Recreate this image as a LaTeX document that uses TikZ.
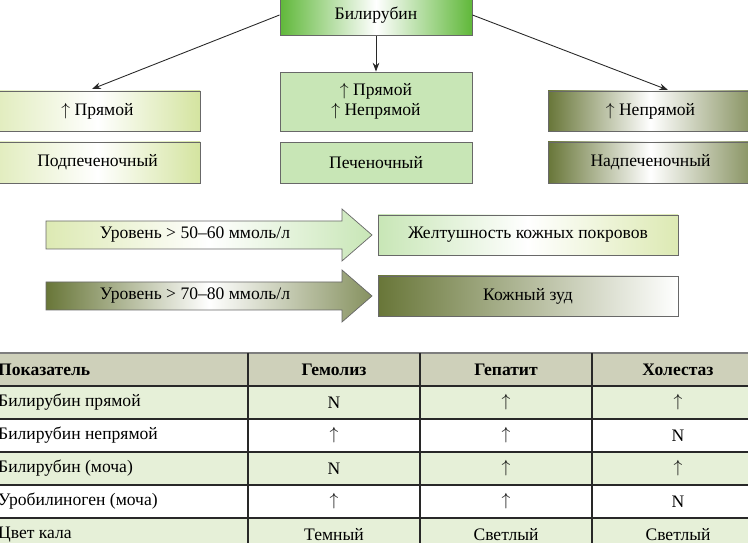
\documentclass[tikz,border=0pt]{standalone}
\usepackage{fontspec}
\setmainfont{Liberation Serif}
\usetikzlibrary{arrows.meta}
\definecolor{grass}{RGB}{96,184,58}
\definecolor{lime}{RGB}{212,228,160}
\definecolor{mint}{RGB}{200,230,182}
\definecolor{olive}{RGB}{104,118,56}
\definecolor{rowgreen}{RGB}{230,240,216}
\definecolor{headgray}{RGB}{206,208,186}
\definecolor{rule}{RGB}{40,40,40}
\tikzset{
  box/.style={draw=rule!70, line width=0.5pt, font=\fontsize{10}{11.5}\selectfont, align=center, inner sep=0pt},
  litebox/.style={box, left color=lime!70, right color=lime, middle color=white},
  flatbox/.style={box, fill=mint},
  darkbox/.style={box, left color=olive, right color=olive!80, middle color=white},
  link/.style={-{Stealth[length=5pt]}, draw=rule, line width=0.5pt},
  txt/.style={font=\fontsize{10}{11.5}\selectfont},
}
\begin{document}
\begin{tikzpicture}[x=0.02cm, y=-0.02cm]
	\useasboundingbox (0,0) rectangle (748,543);
	\clip (0,0) rectangle (748,543);

	% top of the scheme
	\node[box, left color=grass, right color=grass, middle color=white, minimum width=192*0.02cm, minimum height=41*0.02cm] (bili) at (376,15) {Билирубин};
	\node[litebox, minimum width=205*0.02cm, minimum height=40*0.02cm] (direct) at (97.5,111) {$\uparrow$ Прямой};
	\node[litebox, minimum width=205*0.02cm, minimum height=41*0.02cm] (sub) at (97.5,162.5) {Подпеченочный};
	\node[flatbox, minimum width=192*0.02cm, minimum height=59*0.02cm] (both) at (376,101.5) {$\uparrow$ Прямой\\$\uparrow$ Непрямой};
	\node[flatbox, minimum width=192*0.02cm, minimum height=41*0.02cm] (hep) at (376,162.5) {Печеночный};
	\node[darkbox, minimum width=205*0.02cm, minimum height=40*0.02cm] (indirect) at (650.5,111) {$\uparrow$ Непрямой};
	\node[darkbox, minimum width=205*0.02cm, minimum height=41*0.02cm] (supra) at (650.5,162.5) {Надпеченочный};

	\draw[link] (bili.west) -- (92,89);
	\draw[link] (bili.south) -- (both.north);
	\draw[link] (bili.east) -- (668,90);

	% levels
	\path[draw=rule!70, left color=lime!80, right color=mint, middle color=white] (46,221) -- (342,221) -- (342,209) -- (372,235) -- (342,261) -- (342,249) -- (46,249) -- cycle;
	\node[txt] (lvlA) at (195,235) {Уровень > 50–60 ммоль/л};
	\node[box, left color=mint, right color=lime!80, middle color=white, minimum width=300*0.02cm, minimum height=40*0.02cm] (jaund) at (528,235) {Желтушность кожных покровов};
	\path[draw=rule!70, left color=olive, right color=olive!80, middle color=white] (46,282) -- (342,282) -- (342,270) -- (372,296) -- (342,322) -- (342,310) -- (46,310) -- cycle;
	\node[txt] (lvlB) at (195,296) {Уровень > 70–80 ммоль/л};
	\node[box, left color=olive, right color=white, minimum width=300*0.02cm, minimum height=40*0.02cm] (itch) at (528,296) {Кожный зуд};

	% table
	\fill[headgray] (0,353) rectangle (748,386);
	\foreach \y in {386,452,518} \fill[rowgreen] (0,\y) rectangle (748,\y+33);
	\draw[rule!60, line width=1.5pt] (0,353) -- (748,353);
	\foreach \y in {386,419,452,485,518} \draw[rule, line width=0.6pt] (0,\y) -- (748,\y);
	\foreach \x in {248,420,592} \draw[rule, line width=0.8pt] (\x,353) -- (\x,543);
	\foreach \t [count=\i] in {{\bfseries Показатель}, Билирубин прямой, Билирубин непрямой, Билирубин (моча), Уробилиноген (моча), Цвет кала}
		\node[anchor=west, txt] (row\i) at (-8,336.5+\i*33) {\t};
	\foreach \a/\b/\c [count=\i] in {{\bfseries Гемолиз}/{\bfseries Гепатит}/{\bfseries Холестаз}, N/$\uparrow$/$\uparrow$, $\uparrow$/$\uparrow$/N, N/$\uparrow$/$\uparrow$, $\uparrow$/$\uparrow$/N, Темный/Светлый/Светлый} {
		\node[txt] (ca\i) at (334,336.5+\i*33) {\a};
		\node[txt] (cb\i) at (506,336.5+\i*33) {\b};
		\node[txt] (cc\i) at (678,336.5+\i*33) {\c};
	}
\end{tikzpicture}
\end{document}
